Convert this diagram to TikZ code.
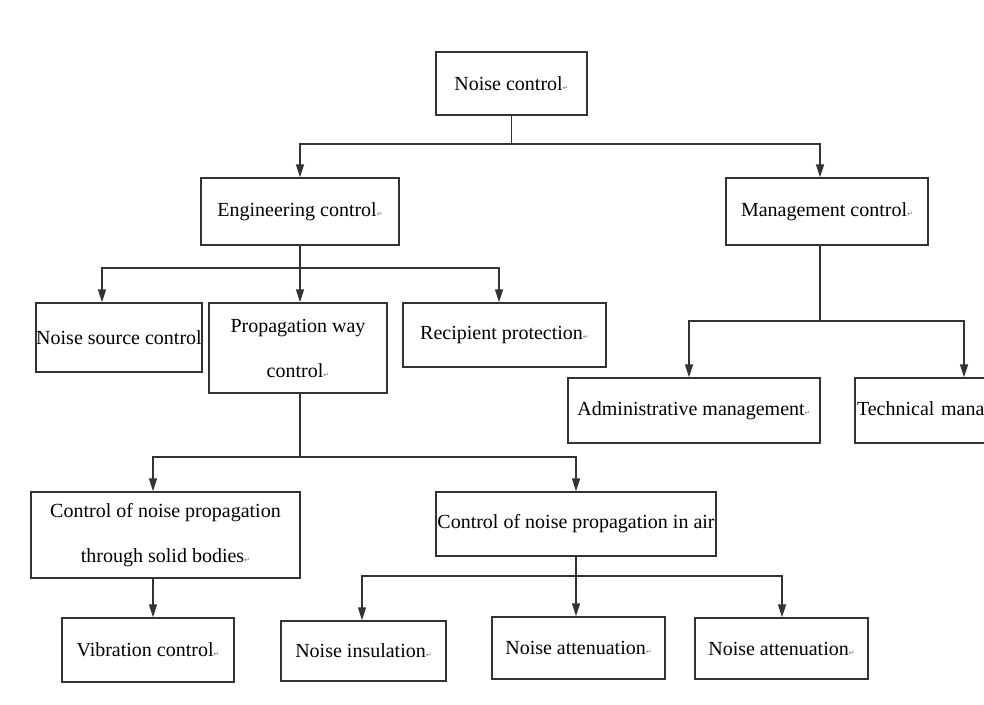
\documentclass[tikz,border=0pt]{standalone}
\usepackage{fontspec}
\setmainfont{Liberation Serif}
\newfontfamily\symfont{DejaVu Sans}
\usetikzlibrary{arrows.meta}
\newcommand\retmark{{\symfont\fontsize{7}{7}\selectfont\textcolor{black!55}{↵}}}
\tikzset{
  box/.style={draw=black!80, line width=1.5pt, fill=white, inner sep=0pt,
    font=\fontsize{20}{45}\selectfont, align=center},
  link/.style={draw=black!80, line width=1.6pt},
  arr/.style={link, -{Triangle[length=13pt,width=8pt]}}
}
\begin{document}
\begin{tikzpicture}[x=1pt,y=-1pt]
\useasboundingbox (0,0) rectangle (984,704);
\clip (0,0) rectangle (984,704);

% level 0
\node[box, minimum width=151pt, minimum height=63pt] (nc) at (511.5,83.5) {Noise control\retmark};

% level 1
\node[box, minimum width=198pt, minimum height=67pt] (ec) at (300,211.5) {Engineering control\retmark};
\node[box, minimum width=202pt, minimum height=67pt] (mc) at (827,211.5) {Management control\retmark};

% level 2, engineering branch
\node[box, minimum width=162pt, minimum height=69pt] (nsc) at (119,337.5) {Noise source control};
\node[box, minimum width=178pt, minimum height=90pt] (pwc) at (298,348) {Propagation way\\control\retmark};
\node[box, minimum width=203pt, minimum height=64pt] (rp) at (504.5,335) {Recipient protection\retmark};

% level 2, management branch
\node[box, minimum width=252pt, minimum height=65pt] (am) at (694,410.5) {Administrative management\retmark};
\node[box, minimum width=205pt, minimum height=65pt, text width=205pt, align=left] (tm) at (957.5,410.5) {\hspace*{2pt}Technical management\retmark};

% level 3, propagation branch
\node[box, minimum width=269pt, minimum height=86pt] (csb) at (165.5,535) {Control of noise propagation\\through solid bodies\retmark};
\node[box, minimum width=280pt, minimum height=64pt] (cair) at (576,524) {Control of noise propagation in air};

% level 4
\node[box, minimum width=172pt, minimum height=64pt] (vc) at (148,650) {Vibration control\retmark};
\node[box, minimum width=165pt, minimum height=60pt] (ni) at (363.5,651) {Noise insulation\retmark};
\node[box, minimum width=173pt, minimum height=62pt] (na1) at (578.5,648) {Noise attenuation\retmark};
\node[box, minimum width=173pt, minimum height=61pt] (na2) at (781.5,648.5) {Noise attenuation\retmark};

% junctions of the branch lines
\coordinate (j1) at (511.5,144);
\coordinate (j2) at (300,268);
\coordinate (j3) at (820,321);
\coordinate (j4) at (300,457);
\coordinate (j5) at (576,576);

% connectors
\draw[link] (nc.south) -- (j1);
\draw[arr] (j1) -| (ec.north);
\draw[arr] (j1) -| ([xshift=-7pt]mc.north);

\draw[link] (ec.south) -- (j2);
\draw[arr] (j2) -| ([xshift=-17pt]nsc.north);
\draw[arr] (j2) -| ([xshift=2pt]pwc.north);
\draw[arr] (j2) -| ([xshift=-5.5pt]rp.north);

\draw[link] ([xshift=-7pt]mc.south) -- (j3);
\draw[arr] (j3) -| ([xshift=-5pt]am.north);
\draw[arr] (j3) -| ([xshift=6.5pt]tm.north);

\draw[link] ([xshift=2pt]pwc.south) -- (j4);
\draw[arr] (j4) -| ([xshift=-12.5pt]csb.north);
\draw[arr] (j4) -| (cair.north);

\draw[arr] ([xshift=-12.5pt]csb.south) -- ([xshift=5pt]vc.north);

\draw[link] (cair.south) -- (j5);
\draw[arr] (j5) -| ([xshift=-1.5pt]ni.north);
\draw[arr] (j5) -| ([xshift=-2.5pt]na1.north);
\draw[arr] (j5) -| ([xshift=0.5pt]na2.north);
\end{tikzpicture}
\end{document}
